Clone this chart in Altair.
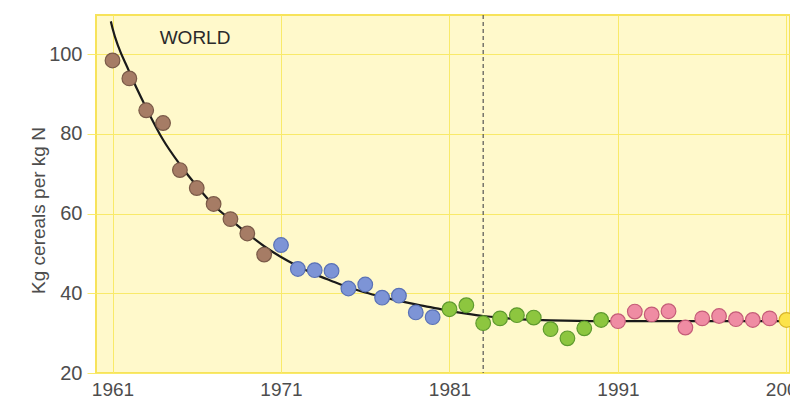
import altair as alt
import pandas as pd

# ---- data ----
years = list(range(1961, 2003))
values = [98.4, 93.9, 85.9, 82.7, 70.9, 66.4, 62.4, 58.6, 55.0, 49.7,
          52.1, 46.1, 45.8, 45.6, 41.2, 42.2, 38.9, 39.4, 35.2, 34.0,
          36.0, 37.0, 32.5, 33.7, 34.5, 33.9, 31.0, 28.7, 31.2, 33.3,
          33.0, 35.4, 34.7, 35.5, 31.4, 33.7, 34.3, 33.5, 33.3, 33.7,
          33.3, 31.0]
periods = (["1961-70"] * 10 + ["1971-80"] * 10 + ["1981-90"] * 10
           + ["1991-00"] * 10 + ["2001-"] * 2)
period_names = ["1961-70", "1971-80", "1981-90", "1991-00", "2001-"]
fill_colors = ["#A67C65", "#7D94D6", "#8DC63F", "#EF8CA3", "#FCE34A"]
stroke_colors = ["#7A5A48", "#5A72B6", "#5E9A2E", "#C45C78", "#D8B428"]

curve_years = [1960.9, 1961, 1962, 1963, 1964, 1965, 1966, 1967, 1968, 1969,
               1970, 1971, 1972, 1973, 1974, 1975, 1976, 1977, 1978, 1979,
               1980, 1981, 1982, 1983, 1984, 1985, 1987, 1990, 2002]
curve_values = [108.2, 106.5, 95.5, 86.5, 78.5, 72.3, 66.9, 62.1, 58.5, 55.0,
                51.8, 49.1, 46.8, 44.8, 43.1, 41.5, 40.2, 39.1, 38.1, 37.2,
                36.4, 35.6, 34.9, 34.3, 33.9, 33.5, 33.2, 33.0, 33.0]

marker_year = [1983]
label_text = ["WORLD"]
label_year = [1963.8]
label_value = [104.0]

x_ticks = [1961, 1971, 1981, 1991, 2001]
y_ticks = [20, 40, 60, 80, 100]

pts = pd.DataFrame({"year": years, "value": values, "period": periods})
curve = pd.DataFrame({"year": curve_years, "value": curve_values})
marker = pd.DataFrame({"year": marker_year})
label = pd.DataFrame({"text": label_text, "year": label_year, "value": label_value})

FONT = "Liberation Sans, Arial, sans-serif"
GRID = "#F9EA6A"

xscale = alt.Scale(domain=[1960.02, 2001.21], nice=False, zero=False)
yscale = alt.Scale(domain=[20, 109.8], nice=False, zero=False)

xax = alt.X("year:Q", scale=xscale,
            axis=alt.Axis(values=x_ticks, format="d", title=None, grid=True,
                          gridColor=GRID, gridWidth=1, ticks=False, domain=False,
                          labelPadding=7, labelFontSize=19, labelFont=FONT,
                          labelColor="#4d4d4d"))
yax = alt.Y("value:Q", scale=yscale,
            axis=alt.Axis(values=y_ticks, title="Kg cereals per kg N", grid=True,
                          gridColor=GRID, gridWidth=1, ticks=True, tickSize=9,
                          tickColor=GRID, domain=False, labelPadding=5,
                          labelFontSize=20, labelFont=FONT, labelColor="#4d4d4d",
                          titleFont=FONT, titleFontSize=19, titleFontWeight="normal",
                          titleColor="#4d4d4d", titleX=-52, titleY=195,
                          titleBaseline="alphabetic", titleAlign="center",
                          titleAngle=270))

rule = alt.Chart(marker).mark_rule(color="#555555", strokeDash=[4, 3],
                                    strokeWidth=1.2).encode(
    x=alt.X("year:Q", scale=xscale))

line = alt.Chart(curve).mark_line(color="#1a1a1a", strokeWidth=2.2,
                                  interpolate="monotone", clip=True).encode(
    x=xax, y=yax)

points = alt.Chart(pts).mark_point(filled=True, shape="circle", size=215,
                                   strokeWidth=1.2, opacity=1, clip=True).encode(
    x=alt.X("year:Q", scale=xscale),
    y=alt.Y("value:Q", scale=yscale),
    fill=alt.Fill("period:N", scale=alt.Scale(domain=period_names, range=fill_colors),
                  legend=None),
    stroke=alt.Stroke("period:N", scale=alt.Scale(domain=period_names, range=stroke_colors),
                      legend=None),
)

text = alt.Chart(label).mark_text(align="left", baseline="middle", font=FONT,
                                  fontSize=19, color="#2a2a2a").encode(
    x=alt.X("year:Q", scale=xscale),
    y=alt.Y("value:Q", scale=yscale),
    text="text:N")

chart = alt.layer(line, rule, points, text).properties(
    width=694, height=358,
    padding={"left": 88, "top": 7, "right": 0, "bottom": 30},
    autosize=alt.AutoSizeParams(type="none"),
).configure_view(
    fill="#FFF9CB", stroke="#F7E35A", strokeWidth=2
)

chart.save("out.html", embed_options={"renderer": "svg", "actions": False})
